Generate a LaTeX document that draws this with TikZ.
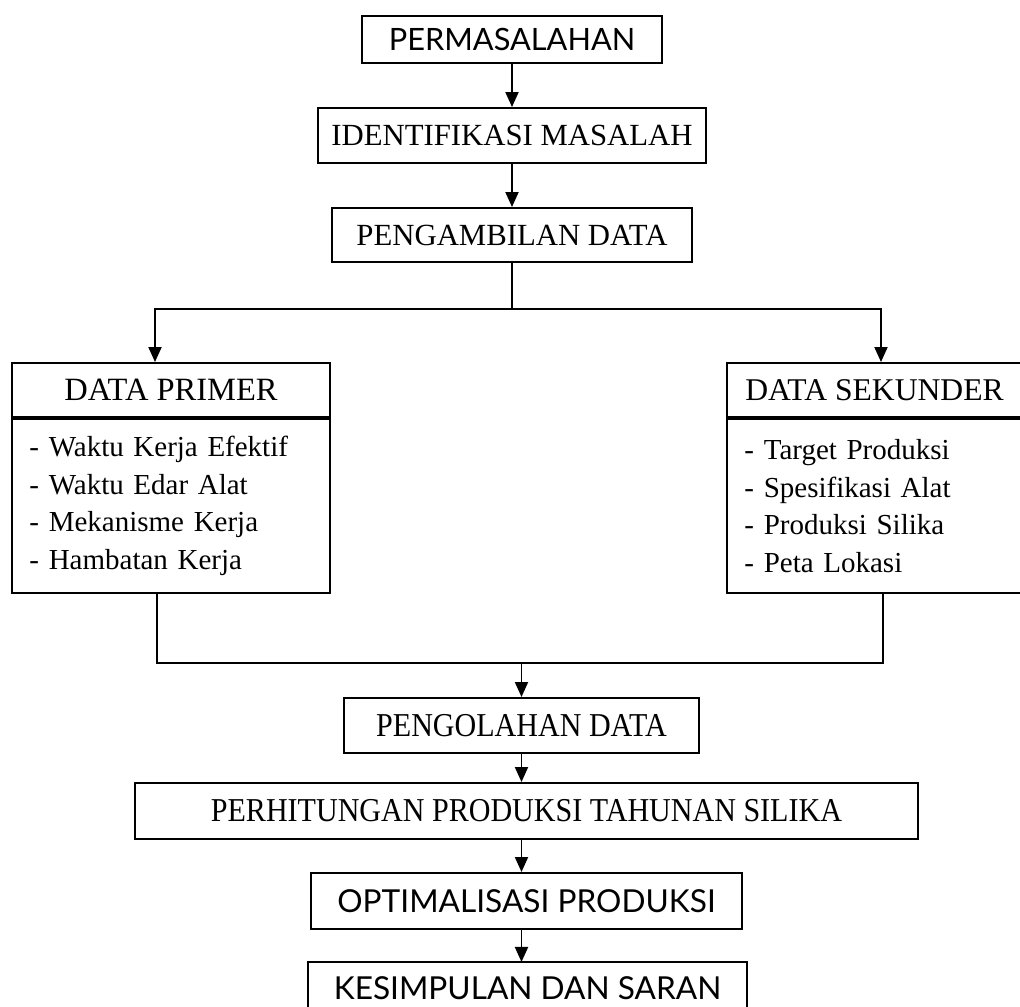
\documentclass[tikz,border=0pt]{standalone}
\usepackage{fontspec}
\setmainfont{Liberation Serif}
\newfontfamily\condfont[FakeStretch=0.9]{Liberation Serif}
\newfontfamily\optfont{Lato}
\usetikzlibrary{arrows.meta}

\begin{document}
\begin{tikzpicture}[scale=0.2]
\tikzstyle{every node}+=[inner sep=0pt]
\tikzstyle{box}=[draw, line width=1.1pt, minimum height=1.1cm, font=\fontsize{17.5}{21}\selectfont]
\tikzstyle{listbox}=[draw, line width=1.1pt, anchor=north, align=left, inner xsep=0.35cm, minimum height=3.48cm, font=\fontsize{16.5}{21.4}\selectfont]
\tikzstyle{link}=[line width=1.1pt]
\tikzstyle{arrow}=[link, -{Triangle[length=0.3cm,width=0.26cm]}]
\useasboundingbox (0,0) rectangle (102,-100.7);
\clip (0,0) rectangle (102,-100.7);
\fill [white] (0,0) rectangle (102,-100.7);
% upper chain
\node [box, minimum width=6.0cm, minimum height=0.94cm, font=\optfont\fontsize{17.5}{20}\selectfont] (masalah) at (51.2,-3.95) {PERMASALAHAN};
\node [box, minimum width=7.76cm] (identifikasi) at (51.2,-13.55) {IDENTIFIKASI MASALAH};
\node [box, minimum width=7.2cm, minimum height=1.08cm] (pengambilan) at (51.2,-23.5) {PENGAMBILAN DATA};
\draw [arrow] (masalah.south) -- (identifikasi.north);
\draw [arrow] (identifikasi.south) -- (pengambilan.north);
% data boxes
\node [box, minimum width=6.36cm, minimum height=1.08cm, font=\fontsize{18.5}{22}\selectfont] (primer) at (17.1,-39.0) {DATA PRIMER};
\node [listbox, text width=5.66cm] (primerlist) at (primer.south) {- Waktu Kerja Efektif\\- Waktu Edar Alat\\- Mekanisme Kerja\\- Hambatan Kerja};
\draw [line width=2.6pt] (primer.south west) -- (primer.south east);
\node [box, minimum width=5.9cm, minimum height=1.08cm, font=\fontsize{18}{22}\selectfont] (sekunder) at (87.45,-39.0) {DATA SEKUNDER};
\node [listbox, text width=5.2cm] (sekunderlist) at (sekunder.south) {- Target Produksi\\- Spesifikasi Alat\\- Produksi Silika\\- Peta Lokasi};
\draw [line width=2.6pt] (sekunder.south west) -- (sekunder.south east);
\coordinate (split) at (51.2,-30.9);
\coordinate (splitL) at (15.5,-30.9);
\coordinate (splitR) at (88.1,-30.9);
\draw [link] (pengambilan.south) -- (split);
\draw [arrow] (split) -- (splitL) -- (splitL |- primer.north);
\draw [arrow] (split) -- (splitR) -- (splitR |- sekunder.north);
% lower chain
\node [box, minimum width=7.1cm, font=\condfont\fontsize{19}{22}\selectfont] (pengolahan) at (52.15,-72.55) {PENGOLAHAN DATA};
\node [box, minimum width=15.66cm, minimum height=1.12cm, font=\condfont\fontsize{19}{22}\selectfont] (perhitungan) at (52.65,-81.1) {PERHITUNGAN PRODUKSI TAHUNAN SILIKA};
\node [box, minimum width=8.62cm, minimum height=1.12cm, font=\optfont\fontsize{18}{21}\selectfont] (optimalisasi) at (52.65,-90.1) {OPTIMALISASI PRODUKSI};
% last box runs past the lower edge
\node [minimum width=8.78cm, font=\optfont\fontsize{18}{21}\selectfont] (kesimpulan) at (52.75,-98.8) {KESIMPULAN DAN SARAN};
\coordinate (kestop) at (52.75,-96.2);
\coordinate (kesbottom) at (52.75,-102);
\draw [link] (kesimpulan.west |- kesbottom) -- (kesimpulan.west |- kestop) -- (kesimpulan.east |- kestop) -- (kesimpulan.east |- kesbottom);
\coordinate (joinL) at (15.7,-66.3);
\coordinate (joinR) at (88.3,-66.3);
\coordinate (join) at (52.15,-66.3);
\draw [link] (joinL |- primerlist.south) -- (joinL) -- (joinR) -- (joinR |- sekunderlist.south);
\draw [arrow] (join) -- (join |- pengolahan.north);
\draw [arrow] (pengolahan.south) -- (pengolahan.south |- perhitungan.north);
\draw [arrow] (pengolahan.south |- perhitungan.south) -- (pengolahan.south |- optimalisasi.north);
\draw [arrow] (pengolahan.south |- optimalisasi.south) -- (pengolahan.south |- kestop);
\end{tikzpicture}
\end{document}
